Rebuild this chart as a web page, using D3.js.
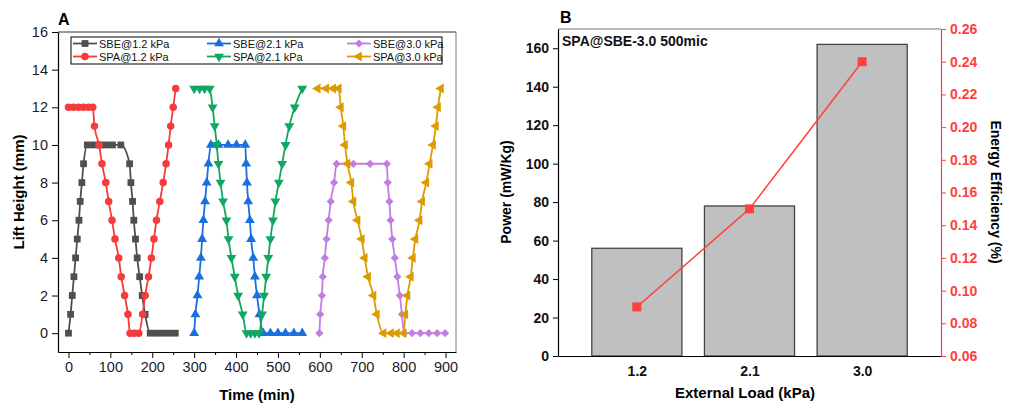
<!DOCTYPE html>
<html>
<head>
<meta charset="utf-8">
<script src="https://cdn.jsdelivr.net/npm/d3@7"></script>
<style>
body { margin: 0; background: #fff; }
text { font-family: Arial, "Liberation Sans", sans-serif; }
</style>
</head>
<body>
<div id="chart"></div>
<script>
// panel A: lift height vs time, [time (min), height (mm)]
var sbe12 = [[0,0],[5,1],[9,2],[13,3],[17,4],[21,5],[25,6],[28,7],[32,8],[36,9],[45,10],
  [60,10],[75,10],[90,10],[105,10],[125,10],[146,9],[149,8],[153,7],[156,6],[160,5],[164,4],
  [170,3],[176,2],[183,1],[195,0],[210,0],[225,0],[240,0],[255,0]];
var spa12 = [[0,12],[12,12],[24,12],[36,12],[48,12],[58,12],[62,11],[73,10],[80,9],[89,8],
  [96,7],[104,6],[111,5],[120,4],[126,3],[134,2],[142,1],[147,0],[157,0],[168,0],[177,1],
  [183,2],[191,3],[198,4],[204,5],[210,6],[218,7],[226,8],[233,9],[239,10],[244,11],[250,12],[256,13]];
var sbe21 = [[300,0],[303,1],[308,2],[312,3],[316,4],[319,5],[322,6],[326,7],[330,8],[334,9],
  [340,10],[358,10],[381,10],[401,10],[422,10],[424,9],[426,8],[429,7],[433,6],[436,5],[441,4],
  [445,3],[450,2],[456,1],[465,0],[482,0],[500,0],[518,0],[538,0],[558,0]];
var spa21 = [[300,13],[313,13],[325,13],[337,13],[344,12],[349,11],[354,10],[358,9],[363,8],
  [369,7],[377,6],[382,5],[389,4],[397,3],[405,2],[416,1],[425,0],[435,0],[445,0],[455,0],
  [462,1],[467,2],[472,3],[477,4],[482,5],[488,6],[494,7],[502,8],[510,9],[518,10],[527,11],
  [540,12],[558,13]];
var sbe30 = [[599,0],[601,1],[605,2],[607,3],[612,4],[616,5],[621,6],[626,7],[634,8],[640,9],
  [680,9],[720,9],[760,9],[762,8],[766,7],[769,6],[773,5],[779,4],[785,3],[791,2],[796,1],
  [801,0],[820,0],[840,0],[860,0],[880,0],[899,0]];
var spa30 = [[595,13],[615,13],[632,13],[645,13],[650,12],[656,11],[660,10],[666,9],[675,8],
  [680,7],[690,6],[700,5],[707,4],[715,3],[728,2],[736,1],[752,0],[770,0],[784,0],[800,0],
  [804,1],[809,2],[817,3],[822,4],[828,5],[838,6],[844,7],[854,8],[862,9],[870,10],[877,11],
  [882,12],[889,13]];
var seriesNames = ["SBE@1.2 kPa", "SPA@1.2 kPa", "SBE@2.1 kPa", "SPA@2.1 kPa", "SBE@3.0 kPa", "SPA@3.0 kPa"];
var seriesData = [sbe12, spa12, sbe21, spa21, sbe30, spa30];
var seriesColors = ["#4f4f4f", "#f53b3b", "#1a6fdf", "#0fa862", "#c17ee0", "#dc9c00"];
var xTicksA = [0, 100, 200, 300, 400, 500, 600, 700, 800, 900];
var yTicksA = [0, 2, 4, 6, 8, 10, 12, 14, 16];

// panel B
var loads = ["1.2", "2.1", "3.0"];
var power = [56, 78, 162];
var efficiency = [0.09, 0.15, 0.24];
var powerTicks = [0, 20, 40, 60, 80, 100, 120, 140, 160];
var effTicks = [0.06, 0.08, 0.10, 0.12, 0.14, 0.16, 0.18, 0.20, 0.22, 0.24, 0.26];

var svg = d3.select("#chart").append("svg")
  .attr("width", 1035)
  .attr("height", 403);

// ---------- panel A ----------
var xA = d3.scaleLinear().domain([-25, 925]).range([58, 456]);
var yA = d3.scaleLinear().domain([-1, 16]).range([352, 32]);

svg.append("line").attr("x1", 58).attr("x2", 456).attr("y1", 32).attr("y2", 32)
  .attr("stroke", "#333").attr("stroke-width", 1);
svg.append("line").attr("x1", 456).attr("x2", 456).attr("y1", 32).attr("y2", 352)
  .attr("stroke", "#777").attr("stroke-width", 1);

var gxA = svg.append("g").attr("transform", "translate(0,352)")
  .call(d3.axisBottom(xA).tickValues(xTicksA).tickSize(6).tickSizeOuter(0).tickPadding(4));
svg.append("g").attr("transform", "translate(0,352)")
  .call(d3.axisBottom(xA).tickValues(d3.range(50, 900, 100)).tickSize(3).tickFormat(""))
  .select(".domain").remove();
var gyA = svg.append("g").attr("transform", "translate(58,0)")
  .call(d3.axisLeft(yA).tickValues(yTicksA).tickSize(6).tickSizeOuter(0).tickPadding(4));
[gxA, gyA].forEach(function (g) {
  g.selectAll("text").style("font-size", "14.5px").attr("fill", "#1b1b2b");
  g.select(".domain").attr("stroke", "#000").attr("stroke-width", 1.2);
});

var markerShapes = [
  { type: d3.symbolSquare, size: 46, rot: 0 },
  { type: d3.symbolCircle, size: 44, rot: 0 },
  { type: d3.symbolTriangle, size: 42, rot: 0 },
  { type: d3.symbolTriangle, size: 42, rot: 180 },
  { type: d3.symbolSquare, size: 34, rot: 45 },
  { type: d3.symbolTriangle, size: 42, rot: -90 }
];

var lineA = d3.line()
  .x(function (d) { return xA(d[0]); })
  .y(function (d) { return yA(d[1]); })
  .curve(d3.curveMonotoneX);

seriesData.forEach(function (data, i) {
  svg.append("path").datum(data)
    .attr("d", lineA)
    .attr("fill", "none")
    .attr("stroke", seriesColors[i])
    .attr("stroke-width", 1.8);
  svg.selectAll(".m" + i).data(data).enter().append("path")
    .attr("class", "m" + i)
    .attr("d", d3.symbol().type(markerShapes[i].type).size(markerShapes[i].size))
    .attr("transform", function (d) {
      return "translate(" + xA(d[0]) + "," + yA(d[1]) + ") rotate(" + markerShapes[i].rot + ")";
    })
    .attr("fill", seriesColors[i]);
});

// legend
var legend = svg.append("g");
legend.append("rect").attr("x", 71).attr("y", 37).attr("width", 371).attr("height", 27)
  .attr("fill", "#fff").attr("stroke", "#000").attr("stroke-width", 1);
var legCols = [73, 207, 347];
seriesNames.forEach(function (name, i) {
  var cx = legCols[Math.floor(i / 2)];
  var cy = i % 2 === 0 ? 43.5 : 56.5;
  legend.append("line").attr("x1", cx).attr("x2", cx + 24).attr("y1", cy).attr("y2", cy)
    .attr("stroke", seriesColors[i]).attr("stroke-width", 1.8);
  legend.append("path")
    .attr("d", d3.symbol().type(markerShapes[i].type).size(markerShapes[i].size))
    .attr("transform", "translate(" + (cx + 12) + "," + cy + ") rotate(" + markerShapes[i].rot + ")")
    .attr("fill", seriesColors[i]);
  legend.append("text").attr("x", cx + 26).attr("y", cy + 4)
    .style("font-size", "11px").attr("fill", "#111").text(name);
});

svg.append("text").attr("x", 58).attr("y", 25).style("font-size", "16px")
  .style("font-weight", "bold").text("A");
svg.append("text").attr("transform", "translate(24,192) rotate(-90)")
  .attr("text-anchor", "middle").style("font-size", "15px").style("font-weight", "bold")
  .text("Lift Height (mm)");
svg.append("text").attr("x", 257).attr("y", 400).attr("text-anchor", "middle")
  .style("font-size", "15px").style("font-weight", "bold").text("Time (min)");

// ---------- panel B ----------
var xB = d3.scaleLinear().domain([0.3, 3.7]).range([558, 941]);
var yB = d3.scaleLinear().domain([0, 170]).range([356, 29]);
var yE = d3.scaleLinear().domain([0.06, 0.26]).range([356, 29]);

svg.append("line").attr("x1", 558).attr("x2", 941).attr("y1", 29).attr("y2", 29)
  .attr("stroke", "#777").attr("stroke-width", 1.2);

svg.selectAll(".bar").data(power).enter().append("rect")
  .attr("class", "bar")
  .attr("x", function (d, i) { return xB(i + 1 - 0.4); })
  .attr("width", xB(1.4) - xB(0.6))
  .attr("y", function (d) { return yB(d); })
  .attr("height", function (d) { return yB(0) - yB(d); })
  .attr("fill", "#c0c0c0")
  .attr("stroke", "#444")
  .attr("stroke-width", 1.3);

var gyB = svg.append("g").attr("transform", "translate(558,0)")
  .call(d3.axisLeft(yB).tickValues(powerTicks).tickSize(5).tickSizeOuter(0).tickPadding(4));
gyB.selectAll("text").style("font-size", "14px").style("font-weight", "bold").attr("fill", "#111");
gyB.select(".domain").attr("stroke", "#000").attr("stroke-width", 1.2);

var gxB = svg.append("g").attr("transform", "translate(0,356)")
  .call(d3.axisBottom(xB).tickValues([1, 2, 3]).tickFormat(function (d) { return loads[d - 1]; })
    .tickSize(0).tickSizeOuter(0).tickPadding(10));
gxB.selectAll("text").style("font-size", "14px").style("font-weight", "bold").attr("fill", "#111");
gxB.select(".domain").attr("stroke", "#000").attr("stroke-width", 1.2);

var gyE = svg.append("g").attr("transform", "translate(941,0)")
  .call(d3.axisRight(yE).tickValues(effTicks).tickFormat(d3.format(".2f"))
    .tickSize(5).tickSizeOuter(0).tickPadding(4));
gyE.selectAll("text").style("font-size", "14px").style("font-weight", "bold").attr("fill", "#ff4040");
gyE.selectAll("line").attr("stroke", "#ff4040");
gyE.select(".domain").attr("stroke", "#ff4040").attr("stroke-width", 1.2);

var lineB = d3.line()
  .x(function (d, i) { return xB(i + 1); })
  .y(function (d) { return yE(d); });
svg.append("path").datum(efficiency)
  .attr("d", lineB)
  .attr("fill", "none")
  .attr("stroke", "#ff4040")
  .attr("stroke-width", 1.5);
svg.selectAll(".eff").data(efficiency).enter().append("rect")
  .attr("class", "eff")
  .attr("x", function (d, i) { return xB(i + 1) - 4.5; })
  .attr("y", function (d) { return yE(d) - 4.5; })
  .attr("width", 9).attr("height", 9)
  .attr("fill", "#ff4040");

svg.append("text").attr("x", 562).attr("y", 46).style("font-size", "14px")
  .style("font-weight", "bold").attr("fill", "#111").text("SPA@SBE-3.0 500mic");
svg.append("text").attr("x", 560).attr("y", 23).style("font-size", "16px")
  .style("font-weight", "bold").text("B");
svg.append("text").attr("transform", "translate(511,192) rotate(-90)")
  .attr("text-anchor", "middle").style("font-size", "14px").style("font-weight", "bold")
  .text("Power (mW/Kg)");
svg.append("text").attr("transform", "translate(991,192) rotate(90)")
  .attr("text-anchor", "middle").style("font-size", "14px").style("font-weight", "bold")
  .text("Energy Efficiency (%)");
svg.append("text").attr("x", 745).attr("y", 398).attr("text-anchor", "middle")
  .style("font-size", "15px").style("font-weight", "bold").text("External Load (kPa)");
</script>
</body>
</html>
